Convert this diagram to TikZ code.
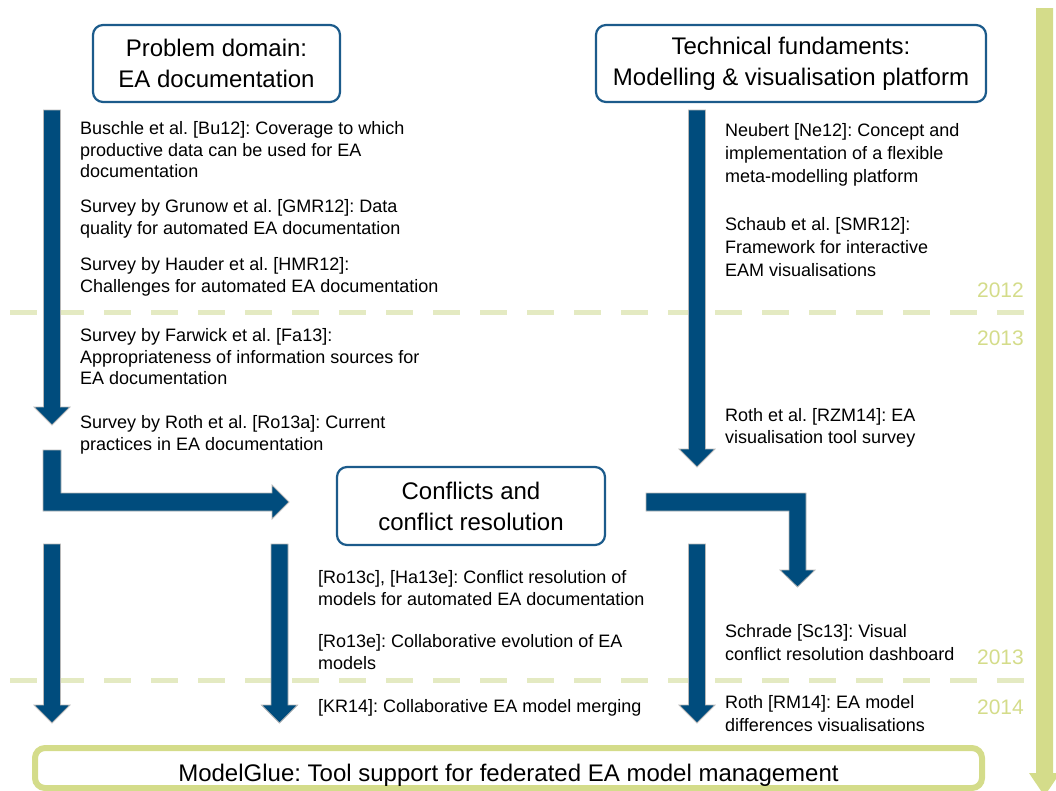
\documentclass[tikz,border=0pt]{standalone}
\usepackage{fontspec}
\setmainfont{Liberation Sans}
\frenchspacing

\definecolor{eablue}{HTML}{004C7D}
\definecolor{boxblue}{HTML}{1C5B8B}
\definecolor{timegreen}{HTML}{D4DC8A}
\definecolor{dashgreen}{HTML}{E4EAC2}

\tikzset{
  topic/.style={draw=boxblue, line width=2.2pt, rounded corners=10pt, align=center,
    inner sep=0pt, font=\fontsize{24}{31}\selectfont},
  paper/.style={anchor=base west, align=left, inner sep=0pt,
    font=\fontsize{18}{21.6}\selectfont},
  paperr/.style={paper, font=\fontsize{18}{23}\selectfont},
  year/.style={anchor=base east, inner sep=0pt, text=timegreen,
    font=\fontsize{21}{25}\selectfont},
  blockarrow/.style={fill=eablue, draw=black!28, line width=0.8pt},
  yearline/.style={draw=dashgreen, line width=5pt, dash pattern=on 27pt off 20pt}
}

\begin{document}
\begin{tikzpicture}[x=1pt,y=-1pt]
\useasboundingbox (0,0) rectangle (1056,790);
\clip (0,0) rectangle (1056,790);

\draw[yearline] (10,312)--(1024,312);
\draw[yearline] (10,680)--(1024,680);

\fill[timegreen] (1036,8)--(1053,8)--(1053,773)--(1060,773)--(1044.5,796)--(1029,773)--(1036,773)--cycle;

\node[topic, minimum width=247pt, minimum height=77pt] (domain) at (216.5,63.5) {Problem domain:\\EA documentation};
\node[topic, minimum width=390pt, minimum height=77pt] (technical) at (791,63.5) {Technical fundaments:\\Modelling \& visualisation platform};
\node[topic, minimum width=268pt, minimum height=78pt] (conflicts) at (471,506) {Conflicts and\\conflict resolution};
\node[draw=timegreen, line width=6pt, rounded corners=10pt, inner sep=0pt, text height=17pt, text depth=0pt,
  minimum width=947pt, minimum height=40pt, font=\fontsize{24}{30}\selectfont] (modelglue) at (508.5,768)
  {\raisebox{-4.5pt}{ModelGlue: Tool support for federated EA model management}};

\foreach \xc/\ya/\yb in {
52/110/425,
697/110/467,
52/544/723,
279.5/544/723,
697/544/723
}{
\draw[blockarrow] (\xc-8.5,\ya)--(\xc+8.5,\ya)--(\xc+8.5,\yb-18)--(\xc+18,\yb-18)--(\xc,\yb)--(\xc-18,\yb-18)--(\xc-8.5,\yb-18)--cycle;
}

\draw[blockarrow] (43,450)--(43,511)--(272,511)--(272,519)--(289,502)--(272,485)--(272,493)--(61,493)--(61,450)--cycle;
\draw[blockarrow] (646,493)--(806,493)--(806,570)--(815,570)--(797.5,587)--(780,570)--(789,570)--(789,511)--(646,511)--cycle;

\node[paper] (bu12) at (80,177.7) {Buschle et al. [Bu12]: Coverage to which\\productive data can be used for EA\\documentation};
\node[paper] (gmr12) at (80,234.1) {Survey by Grunow et al. [GMR12]: Data\\quality for automated EA documentation};
\node[paper] (hmr12) at (80,292.1) {Survey by Hauder et al. [HMR12]:\\Challenges for automated EA documentation};
\node[paper] (fa13) at (80,384.7) {Survey by Farwick et al. [Fa13]:\\Appropriateness of information sources for\\EA documentation};
\node[paper] (ro13a) at (80,450.1) {Survey by Roth et al. [Ro13a]: Current\\practices in EA documentation};

\node[paperr] (ne12) at (725,182.5) {Neubert [Ne12]: Concept and\\implementation of a flexible\\meta-modelling platform};
\node[paperr] (smr12) at (725,276.5) {Schaub et al. [SMR12]:\\Framework for interactive\\EAM visualisations};
\node[paper] (rzm14) at (725,443.1) {Roth et al. [RZM14]: EA\\visualisation tool survey};
\node[paperr] (sc13) at (725,660.5) {Schrade [Sc13]: Visual\\conflict resolution dashboard};
\node[paperr] (rm14) at (725,731.5) {Roth [RM14]: EA model\\differences visualisations};

\node[paper] (ro13c) at (318,605.1) {[Ro13c], [Ha13e]: Conflict resolution of\\models for automated EA documentation};
\node[paper] (ro13e) at (318,669.1) {[Ro13e]: Collaborative evolution of EA\\models};
\node[paper] (kr14) at (318,712.5) {[KR14]: Collaborative EA model merging};

\node[year] (y12) at (1024,297.5) {2012};
\node[year] (y13) at (1024,345.5) {2013};
\node[year] (y13b) at (1024,664) {2013};
\node[year] (y14) at (1024,714) {2014};

\end{tikzpicture}
\end{document}
